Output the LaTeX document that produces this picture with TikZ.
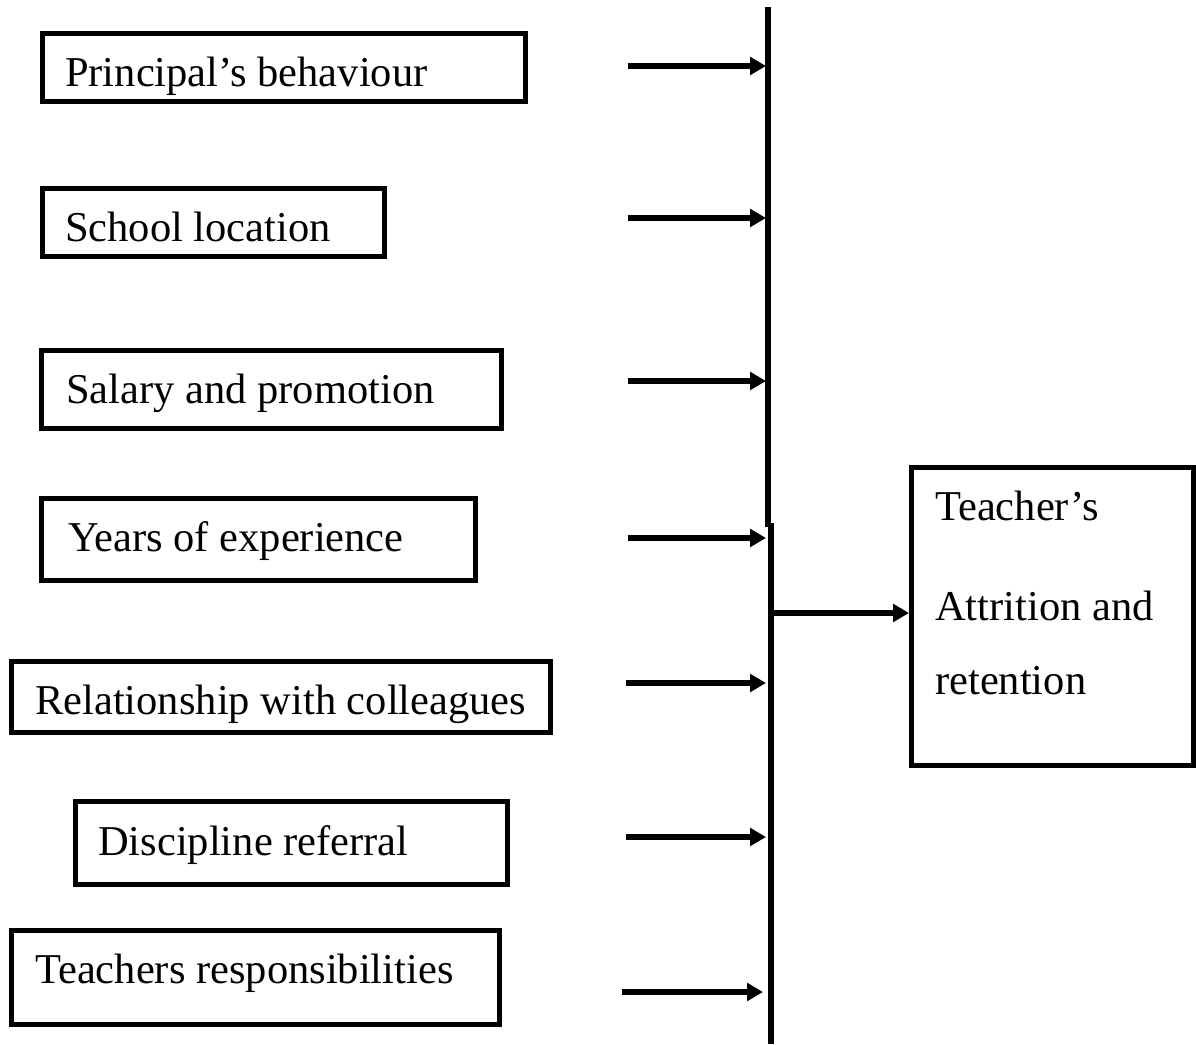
\documentclass[tikz,border=0pt]{standalone}
\usepackage{fontspec}
\setmainfont{Liberation Serif}
\usetikzlibrary{arrows.meta}
\begin{document}
\begin{tikzpicture}[x=1pt,y=-1pt,
  frame/.style={draw=black, line width=5.3pt, rectangle, inner sep=0pt, outer sep=2.65pt, anchor=north west},
  lbl/.style={anchor=base west, inner sep=0pt, font=\fontsize{42.5}{50}\selectfont},
  feed/.style={line width=5.3pt, -{Triangle[length=16pt,width=17.5pt]}},
  bar/.style={line width=6pt}]
\useasboundingbox (0,0) rectangle (1196,1044);

% factor boxes (placed by their outer corner)
\node[frame, minimum width=483pt, minimum height=68pt] (b1) at (40,31) {};
\node[frame, minimum width=342pt, minimum height=68pt] (b2) at (40,186) {};
\node[frame, minimum width=460pt, minimum height=78pt] (b3) at (39,348) {};
\node[frame, minimum width=434pt, minimum height=82pt] (b4) at (39,496) {};
\node[frame, minimum width=539pt, minimum height=71pt] (b5) at (9,659) {};
\node[frame, minimum width=432pt, minimum height=83pt] (b6) at (73,799) {};
\node[frame, minimum width=488pt, minimum height=94pt] (b7) at (9,928) {};

% factor labels
\node[lbl] (t1) at (65,86) {Principal’s behaviour};
\node[lbl] (t2) at (65,241) {School location};
\node[lbl] (t3) at (66,403) {Salary and promotion};
\node[lbl] (t4) at (68,551) {Years of experience};
\node[lbl] (t5) at (35,714) {Relationship with colleagues};
\node[lbl] (t6) at (98,855) {Discipline referral};
\node[lbl] (t7) at (35,983) {Teachers responsibilities};

% outcome box
\node[frame, minimum width=282pt, minimum height=298pt] (out) at (909,465) {};
\node[lbl] (o1) at (935,520) {Teacher’s};
\node[lbl] (o2) at (935,620) {Attrition and};
\node[lbl] (o3) at (935,694) {retention};

% collecting bar (two overlapping segments)
\coordinate (bartop) at (767.5,7);
\coordinate (barmidA) at (767.5,527);
\coordinate (barmidB) at (770.5,523);
\coordinate (barbot) at (770.5,1044);
\draw[bar] (bartop) -- (barmidA);
\draw[bar] (barmidB) -- (barbot);

% arrows into the bar
\coordinate (hit) at (766,0);
\coordinate (s1) at (628,66);
\coordinate (s2) at (628,218);
\coordinate (s3) at (628,381);
\coordinate (s4) at (628,538);
\coordinate (s5) at (626,683);
\coordinate (s6) at (626,837);
\coordinate (s7) at (622,992);
\coordinate (hit7) at (763,0);
\foreach \s in {s1,s2,s3,s4,s5,s6}
  \draw[feed] (\s) -- (\s -| hit);
\draw[feed] (s7) -- (s7 -| hit7);

% arrow from the bar to the outcome
\coordinate (m) at (773,613);
\draw[feed] (m) -- (m -| out.west);
\end{tikzpicture}
\end{document}
